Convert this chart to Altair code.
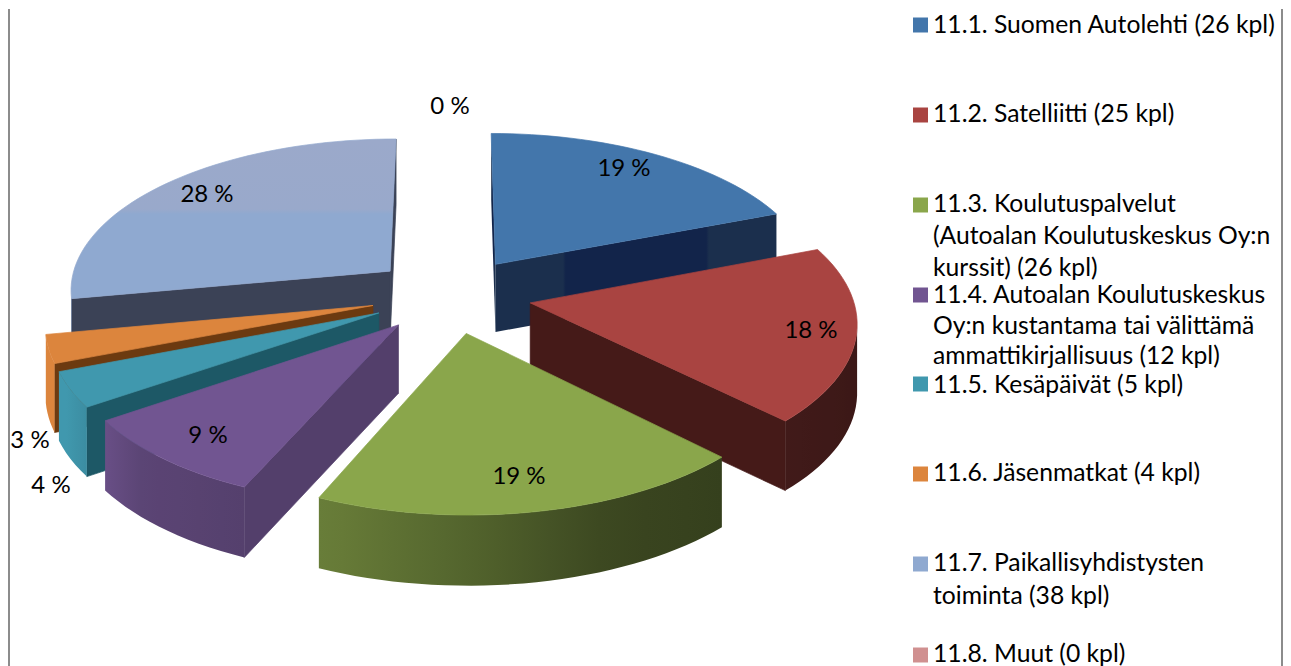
import math
import altair as alt

# --- data ---
series = ["11.1", "11.2", "11.3", "11.4", "11.5", "11.6", "11.7", "11.8"]
counts = [26, 25, 26, 12, 5, 4, 38, 0]
pct_labels = ["19 %", "18 %", "19 %", "9 %", "4 %", "3 %", "28 %", "0 %"]
top_colors = ["#4376AB", "#A94441", "#8AA64B", "#715591", "#4098AE", "#DC853D", "#8FA9D0", "#D09090"]
cut_colors = ["#14274B", "#451A18", "#36421B", "#533F6B", "#1D5866", "#6C3A10", "#3B4256", "#555555"]
legend_rows = [
    ["11.1. Suomen Autolehti (26 kpl)"],
    ["11.2. Satelliitti (25 kpl)"],
    ["11.3. Koulutuspalvelut", "(Autoalan Koulutuskeskus Oy:n", "kurssit) (26 kpl)"],
    ["11.4. Autoalan Koulutuskeskus", "Oy:n kustantama tai välittämä", "ammattikirjallisuus (12 kpl)"],
    ["11.5. Kesäpäivät (5 kpl)"],
    ["11.6. Jäsenmatkat (4 kpl)"],
    ["11.7. Paikallisyhdistysten", "toiminta (38 kpl)"],
    ["11.8. Muut (0 kpl)"],
]

# --- layout (page pixels) ---
OFF = 8
CX, CY, RX, RY, KX, KY, KD, DEPTH, EXPL = 451, 294, 322, 152, 0.11, 0.112, 0.03, 68, 0.25
label_xy = [(624, 168), (811, 330), (519, 476), (208, 435), (51, 485), (30, 440), (207, 194), (450, 106)]
legend_square_y = [24, 114, 204, 294, 383, 473, 563, 654]
legend_line_y = [[25], [114], [204, 236, 268], [295, 326, 356], [385], [473], [563, 596], [654]]
FONT = "Lato"
W, H = 1275, 658


def project(u, v, h=0.0):
    return [CX + RX * u / (1 - KX * v) - OFF,
            CY + RY * v / (1 - KY * v) + h / (1 - KD * v) - OFF]


def shade_factor(u):
    pts = [(-1, 1.0), (-0.9, 1.0), (-0.7, 0.8), (-0.37, 0.75), (0, 0.6), (0.4, 0.42), (1, 0.35)]
    for (a, fa), (b, fb) in zip(pts, pts[1:]):
        if u <= b:
            return fa + (fb - fa) * (u - a) / (b - a)
    return pts[-1][1]


def shade(hexcol, f):
    rgb = [int(hexcol[i:i + 2], 16) for i in (1, 3, 5)]
    return "#%02x%02x%02x" % tuple(int(round(c * f)) for c in rgb)


def polygon(ring):
    return {"type": "Feature", "properties": {},
            "geometry": {"type": "Polygon", "coordinates": [ring + [ring[0]]]}}


proj = dict(type="identity", scale=1, translate=[0, 0])


def shape_layer(ring, fill, stroke=None):
    kw = {"stroke": stroke, "strokeWidth": 0.7} if stroke else {"strokeWidth": 0, "strokeOpacity": 0}
    return alt.Chart(alt.Data(values=[polygon(ring)])).mark_geoshape(fill=fill, **kw).project(**proj)


total = sum(counts)
slices = []
acc = 0.0
for i, c in enumerate(counts):
    a0 = acc / total * 2 * math.pi
    acc += c
    a1 = acc / total * 2 * math.pi
    slices.append((i, a0, a1))

VIEW = (0.0, 1 / KX)


def facing(nx, ny, px, py):
    return nx * (VIEW[0] - px) + ny * (VIEW[1] - py) > 0


lb_fill = alt.Gradient(gradient="linear", x1=0, x2=0, y1=0, y2=1, stops=[
    alt.GradientStop(offset=0, color="#9BA9CA"),
    alt.GradientStop(offset=0.44, color="#99A9CB"),
    alt.GradientStop(offset=0.47, color="#8FA9D0"),
    alt.GradientStop(offset=1, color="#8FA9D0"),
])
blue_wall_fill = alt.Gradient(gradient="linear", x1=0, x2=1, y1=0, y2=0, stops=[
    alt.GradientStop(offset=0, color="#1B2F4D"),
    alt.GradientStop(offset=0.24, color="#1B2F4D"),
    alt.GradientStop(offset=0.25, color="#12244A"),
    alt.GradientStop(offset=0.75, color="#12244A"),
    alt.GradientStop(offset=0.76, color="#1B2F4D"),
    alt.GradientStop(offset=1, color="#1B2F4D"),
])

layers = []
for idx in [6, 0, 5, 4, 3, 1, 2]:
    i, a0, a1 = slices[idx]
    mid = (a0 + a1) / 2
    ox, oy = EXPL * math.sin(mid), -EXPL * math.cos(mid)
    n = max(6, int((a1 - a0) / math.radians(2)))
    angles = [a0 + (a1 - a0) * k / n for k in range(n + 1)]
    rim = [(ox + math.sin(t), oy - math.cos(t)) for t in angles]

    # cut walls
    wall_fill = blue_wall_fill if i == 0 else cut_colors[i]
    wall_stroke = None if i == 0 else cut_colors[i]
    if facing(-math.cos(a0), -math.sin(a0), ox, oy):
        layers.append(shape_layer([project(ox, oy), project(*rim[0]), project(*rim[0], DEPTH), project(ox, oy, DEPTH)],
                                  wall_fill, wall_stroke))
    if facing(math.cos(a1), math.sin(a1), ox, oy):
        layers.append(shape_layer([project(ox, oy), project(*rim[-1]), project(*rim[-1], DEPTH), project(ox, oy, DEPTH)],
                                  wall_fill, wall_stroke))
    # outer wall: a single polygon with a horizontal gradient
    vis = [k for k in range(n + 1) if facing(math.sin(angles[k]), -math.cos(angles[k]), rim[k][0], rim[k][1])]
    if len(vis) >= 2:
        ring = [project(*rim[k]) for k in vis] + [project(*rim[k], DEPTH) for k in reversed(vis)]
        xs = [p[0] for p in ring]
        xmin, xmax = min(xs), max(xs)
        stops = sorted(
            ((project(*rim[k])[0] - xmin) / (xmax - xmin), shade(top_colors[i], shade_factor(math.sin(angles[k]))))
            for k in vis[:: max(1, len(vis) // 8)] + [vis[-1]]
        )
        grad = alt.Gradient(gradient="linear", x1=0, x2=1, y1=0, y2=0,
                            stops=[alt.GradientStop(offset=round(o, 4), color=c) for o, c in stops])
        layers.append(shape_layer(ring, grad))
    # top face
    ring = [project(ox, oy)] + [project(*p) for p in rim]
    if i == 6:
        layers.append(shape_layer(ring, lb_fill, "#93A9CE"))
    else:
        layers.append(shape_layer(ring, top_colors[i], top_colors[i]))

pct_rows = [{"x": x - OFF, "y": y - OFF, "t": t} for (x, y), t in zip(label_xy, pct_labels)]
pct_text = alt.Chart(alt.Data(values=pct_rows)).mark_text(
    font=FONT, fontSize=24, color="#000000", align="center", baseline="middle"
).encode(x=alt.X("x:Q", scale=None), y=alt.Y("y:Q", scale=None), text="t:N")

sq_rows = [{"x": 920.5 - OFF, "y": y - OFF, "c": c} for y, c in zip(legend_square_y, top_colors)]
squares = alt.Chart(alt.Data(values=sq_rows)).mark_square(size=225, opacity=1).encode(
    x=alt.X("x:Q", scale=None), y=alt.Y("y:Q", scale=None),
    fill=alt.Fill("c:N", scale=None), stroke=alt.value(None),
)

line_rows = []
for lines, ys in zip(legend_rows, legend_line_y):
    for t, y in zip(lines, ys):
        line_rows.append({"x": 933 - OFF, "y": y - OFF, "t": t})
legend_text = alt.Chart(alt.Data(values=line_rows)).mark_text(
    font=FONT, fontSize=24.7, color="#000000", align="left", baseline="middle"
).encode(x=alt.X("x:Q", scale=None), y=alt.Y("y:Q", scale=None), text="t:N")

frame_left = alt.Chart(alt.Data(values=[{"a": 0}])).mark_rule(color="#8C8C8C", strokeWidth=2).encode(
    x=alt.value(1), y=alt.value(0), y2=alt.value(H)
)
frame_right = alt.Chart(alt.Data(values=[{"a": 0}])).mark_rule(color="#8C8C8C", strokeWidth=2).encode(
    x=alt.value(W - 1), y=alt.value(0), y2=alt.value(H)
)

chart = alt.layer(*layers, pct_text, squares, legend_text, frame_left, frame_right).properties(
    width=W, height=H, padding=0,
).configure_view(stroke=None)

chart.save("out.html", embed_options={"renderer": "svg", "actions": False})
